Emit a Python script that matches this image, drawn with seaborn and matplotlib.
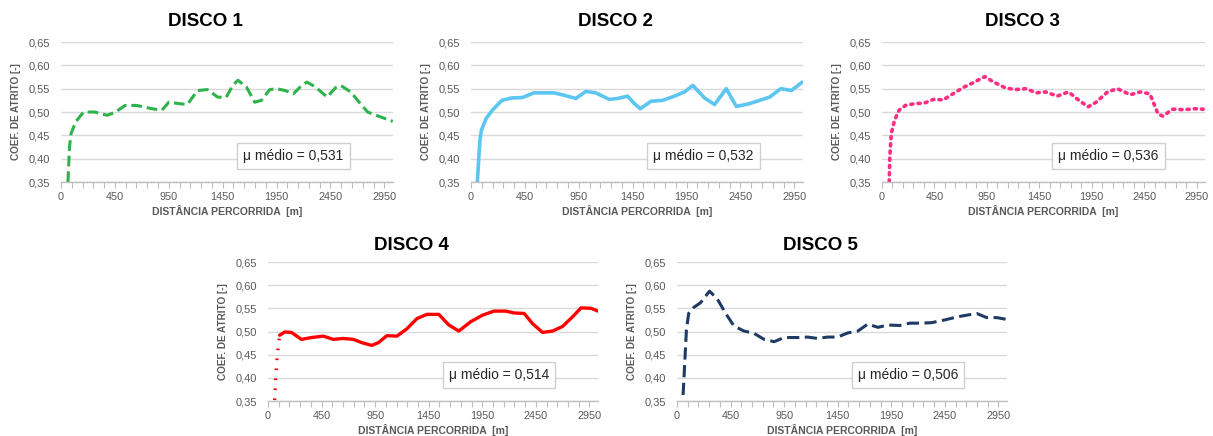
import matplotlib
matplotlib.use("Agg")
import matplotlib.pyplot as plt
import numpy as np
import seaborn as sns

# distancia [m] e coef. de atrito
x1 = [58, 71, 84, 123, 188, 280, 385, 450, 544, 653, 794, 887, 950, 1044, 1122, 1216, 1309, 1403, 1481,
      1544, 1591, 1669, 1747, 1809, 1887, 1950, 2028, 2106, 2184, 2231, 2309, 2419, 2497, 2544, 2638,
      2716, 2794, 2872, 3028]
y1 = [0.35, 0.425, 0.454, 0.479, 0.50, 0.50, 0.493, 0.499, 0.514, 0.514, 0.507, 0.504, 0.521, 0.518,
      0.516, 0.546, 0.548, 0.532, 0.531, 0.557, 0.568, 0.554, 0.521, 0.525, 0.548, 0.55, 0.546, 0.539,
      0.557, 0.564, 0.554, 0.532, 0.552, 0.557, 0.543, 0.521, 0.50, 0.493, 0.48]

x2 = [53, 74, 87, 126, 179, 258, 337, 429, 534, 720, 813, 922, 1015, 1108, 1232, 1310, 1403, 1465, 1521,
      1620, 1729, 1837, 1930, 2008, 2117, 2210, 2318, 2411, 2520, 2628, 2721, 2824, 2923, 3022]
y2 = [0.35, 0.439, 0.461, 0.486, 0.504, 0.525, 0.53, 0.531, 0.541, 0.541, 0.536, 0.529, 0.544, 0.541,
      0.527, 0.529, 0.534, 0.518, 0.507, 0.523, 0.525, 0.534, 0.543, 0.557, 0.53, 0.516, 0.55, 0.512,
      0.517, 0.525, 0.532, 0.55, 0.546, 0.564]

x3 = [62, 67, 80, 107, 147, 201, 281, 362, 442, 534, 627, 720, 813, 931, 1015, 1124, 1217, 1325, 1418,
      1511, 1620, 1729, 1822, 1915, 1992, 2101, 2194, 2318, 2411, 2504, 2582, 2628, 2721, 2830, 2938, 3013]
y3 = [0.35, 0.404, 0.454, 0.482, 0.504, 0.514, 0.518, 0.519, 0.527, 0.526, 0.539, 0.552, 0.562, 0.576,
      0.564, 0.552, 0.548, 0.55, 0.541, 0.543, 0.534, 0.543, 0.526, 0.511, 0.521, 0.543, 0.55, 0.537,
      0.543, 0.539, 0.496, 0.491, 0.506, 0.505, 0.507, 0.506]

x4 = [56, 65, 79, 90, 98, 141, 197, 281, 366, 466, 559, 653, 747, 825, 919, 981, 1059, 1153, 1247, 1341,
      1434, 1544, 1638, 1731, 1841, 1950, 2059, 2169, 2247, 2341, 2419, 2513, 2606, 2700, 2794, 2872,
      2966, 3030]
y4 = [0.352, 0.402, 0.453, 0.474, 0.492, 0.499, 0.498, 0.483, 0.487, 0.49, 0.483, 0.485, 0.483, 0.476,
      0.47, 0.476, 0.491, 0.49, 0.506, 0.528, 0.537, 0.537, 0.514, 0.501, 0.521, 0.535, 0.544, 0.544,
      0.54, 0.539, 0.517, 0.498, 0.501, 0.511, 0.532, 0.551, 0.55, 0.544]

x5 = [51, 62, 79, 98, 141, 197, 273, 337, 409, 481, 575, 669, 763, 856, 950, 1075, 1169, 1263, 1356, 1450,
      1544, 1638, 1731, 1825, 1919, 2028, 2122, 2216, 2325, 2450, 2575, 2747, 2841, 2934, 3030]
y5 = [0.363, 0.417, 0.503, 0.539, 0.552, 0.562, 0.587, 0.571, 0.539, 0.512, 0.501, 0.496, 0.483, 0.478,
      0.487, 0.487, 0.488, 0.485, 0.488, 0.488, 0.497, 0.501, 0.516, 0.509, 0.514, 0.513, 0.518, 0.518,
      0.519, 0.525, 0.532, 0.539, 0.53, 0.53, 0.526]

titles = ["DISCO 1", "DISCO 2", "DISCO 3", "DISCO 4", "DISCO 5"]
mu_labels = ["μ médio = 0,531", "μ médio = 0,532", "μ médio = 0,536", "μ médio = 0,514", "μ médio = 0,506"]
yticks = [0.35, 0.40, 0.45, 0.50, 0.55, 0.60, 0.65]
xtick_labels = ["0", "450", "950", "1450", "1950", "2450", "2950"]

series = [(x1, y1), (x2, y2), (x3, y3), (x4, y4), (x5, y5)]
colors = ["#2DB24C", "#5CC6F0", "#FF2E80", "#FF0000", "#1F3A64"]
styles = [(0, (3.5, 1.6)), "-", (0, (0.6, 1.4)), "-", (0, (4.0, 1.8))]
widths = [2.2, 2.6, 2.6, 2.4, 2.2]

sns.set_style("white")
plt.rcParams["font.family"] = ["Liberation Sans", "DejaVu Sans"]

W, H = 1213, 436
fig = plt.figure(figsize=(W / 100, H / 100), dpi=100)

# [left, top, right, bottom] in pixels
boxes = [(61, 42, 393, 182), (471, 42, 803, 182), (882, 42, 1205, 182),
         (268, 262, 598, 401), (677, 262, 1007, 401)]


def fwd(x):
    x = np.asarray(x, dtype=float)
    return np.where(x < 450, x * 500 / 450, x + 50)


def inv(u):
    u = np.asarray(u, dtype=float)
    return np.where(u < 500, u * 450 / 500, u - 50)


grey = "#595959"
for i, (l, t, r, b) in enumerate(boxes):
    ax = fig.add_axes([l / W, 1 - b / H, (r - l) / W, (b - t) / H])
    xs, ys = series[i]
    ax.set_xscale("function", functions=(fwd, inv))
    if i == 3:
        sns.lineplot(x=xs[:5], y=ys[:5], ax=ax, color=colors[i], linestyle=(0, (0.5, 2.5)),
                     linewidth=2.4, sort=False, estimator=None)
        sns.lineplot(x=xs[4:], y=ys[4:], ax=ax, color=colors[i], linestyle="-",
                     linewidth=widths[i], sort=False, estimator=None)
    else:
        sns.lineplot(x=xs, y=ys, ax=ax, color=colors[i], linestyle=styles[i],
                     linewidth=widths[i], sort=False, estimator=None)
        if i == 2:
            ax.lines[-1].set_dash_capstyle("round")
    ax.set_ylim(0.35, 0.65)
    ax.set_xlim(0, 3030)
    ax.set_yticks(yticks)
    ax.set_yticklabels([f"{v:.2f}".replace(".", ",") for v in yticks])
    pos = inv(np.arange(0, 3001, 100))
    labs = [""] * len(pos)
    for k, lab in enumerate(xtick_labels):
        labs[k * 5] = lab
    ax.set_xticks(pos)
    ax.set_xticklabels(labs)
    ax.grid(axis="y", color="#D9D9D9", linewidth=1)
    ax.set_axisbelow(True)
    for s in ["left", "right", "top"]:
        ax.spines[s].set_visible(False)
    ax.spines["bottom"].set_color("#BFBFBF")
    ax.spines["bottom"].set_linewidth(1)
    ax.tick_params(axis="x", length=4, color="#BFBFBF", labelsize=7.8, labelcolor=grey, pad=3, bottom=True)
    ax.tick_params(axis="y", length=0, labelsize=8, labelcolor=grey, pad=8)
    ax.set_xlabel("DISTÂNCIA PERCORRIDA  [m]", fontsize=7.5, fontweight="bold", color=grey, labelpad=2)
    ax.set_ylabel("COEF. DE ATRITO [-]", fontsize=7.2, fontweight="bold", color=grey, labelpad=5)
    ty = 1.143 if i < 3 else 1.122
    ax.text(0.434, ty, titles[i], transform=ax.transAxes, ha="center", va="center",
            fontsize=13.5, fontweight="bold", color="black")
    ax.text(0.70, 0.187, mu_labels[i], transform=ax.transAxes, ha="center", va="center",
            fontsize=10, color="#262626",
            bbox=dict(boxstyle="square,pad=0.45", facecolor="white", edgecolor="#D0D0D0", linewidth=1))

fig.savefig("out.png", dpi=100)
